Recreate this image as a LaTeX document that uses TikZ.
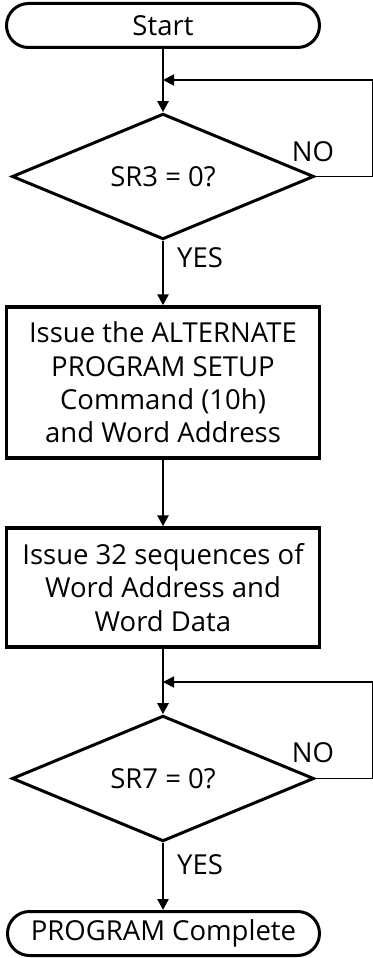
\documentclass[tikz,border=0pt]{standalone}
\usepackage{fontspec}
\setmainfont{Open Sans}
\usetikzlibrary{arrows.meta,positioning,shapes.geometric,shapes.misc}

\begin{document}
\begin{tikzpicture}[
  x=1pt, y=-1pt,
  font=\fontsize{27.5}{33.3}\selectfont,
  term/.style={rounded rectangle, draw, line width=3pt, minimum width=313pt, minimum height=44pt, inner sep=0pt},
  proc/.style={rectangle, draw, line width=3.4pt, align=center, minimum width=313pt, inner sep=0pt},
  dec/.style={diamond, draw, line width=3pt, minimum width=302pt, minimum height=123pt, inner sep=0pt},
  arrow/.style={-{Triangle[length=11pt,width=11pt]}, line width=2.4pt},
  loopline/.style={line width=1.8pt}
]
\useasboundingbox (0,0) rectangle (372,958);
% Wait for SR3, then set up the program
\node[term] (start) at (163,25.5) {Start};
\node[dec] (sr3) at (163,176.5) {SR3 = 0?};
\node[proc, minimum height=151pt] (setup) at (163,382.5) {Issue the ALTERNATE\\PROGRAM SETUP\\Command (10h)\\and Word Address};
% Data loop, then wait for SR7
\node[proc, minimum height=119pt] (seq) at (163,587.5) {Issue 32 sequences of\\Word Address and\\Word Data};
\node[dec] (sr7) at (163,778.5) {SR7 = 0?};
\node[term, minimum width=312pt] (done) at (163.5,933.5) {PROGRAM Complete};
\coordinate (j1) at (163,80);
\coordinate (j2) at (163,682);
\draw[arrow] (start.south -| sr3.north) -- (sr3.north);
\draw[loopline, -{Triangle[length=11pt,width=11pt]}] (sr3.east) -- ++(57,0) |- (j1);
\draw[arrow] (sr3.south) -- (setup.north);
\draw[arrow] (setup.south) -- (seq.north);
\draw[arrow] (seq.south) -- (sr7.north);
\draw[loopline, -{Triangle[length=11pt,width=11pt]}] (sr7.east) -- ++(57,0) |- (j2);
\draw[arrow] (sr7.south) -- (sr7.south |- done.north);
\node (no1) at (313,152) {NO};
\node (yes1) at (200,258) {YES};
\node (no2) at (313,753) {NO};
\node (yes2) at (200,865) {YES};
\end{tikzpicture}
\end{document}
